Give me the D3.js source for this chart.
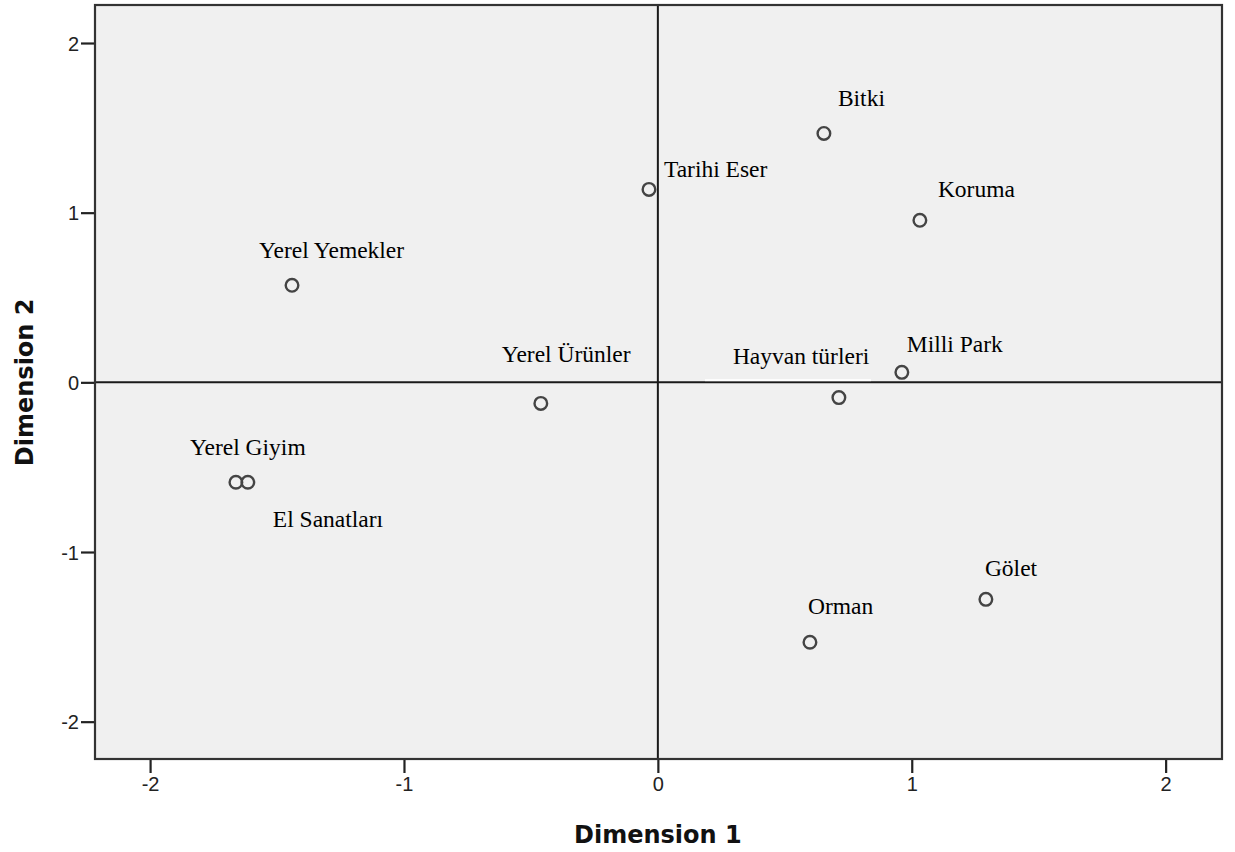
<!DOCTYPE html>
<html>
<head>
<meta charset="utf-8">
<script src="https://cdn.jsdelivr.net/npm/d3@7/dist/d3.min.js"></script>
<style>
  html, body { margin: 0; padding: 0; background: #ffffff; }
  svg { display: block; }
</style>
</head>
<body>
<svg id="chart" width="1235" height="852"></svg>
<script>
// ---- data ----
const labels = ["Bitki", "Tarihi Eser", "Koruma", "Yerel Yemekler", "Milli Park", "Hayvan türleri",
                "Yerel Ürünler", "Yerel Giyim", "El Sanatları", "Gölet", "Orman"];
const dim1 = [0.654, -0.035, 1.032, -1.441, 0.961, 0.713, -0.461, -1.662, -1.615, 1.292, 0.599];
const dim2 = [1.467, 1.137, 0.955, 0.572, 0.059, -0.090, -0.124, -0.589, -0.589, -1.279, -1.532];
const xTicks = [-2, -1, 0, 1, 2];
const yTicks = [-2, -1, 0, 1, 2];
const xTitle = "Dimension 1";
const yTitle = "Dimension 2";

// ---- layout (label offsets in px from point to text start/baseline) ----
const labelDx = [14, 15, 18, -33, 5, -106, -39, -46, 25, -1, -2];
const labelDy = [-27, -12, -23, -27, -20, -34, -41, -27, 45, -23, -28];

const svg = d3.select("#chart");
const L = 95, R = 1222, T = 5, B = 759;

const x = d3.scaleLinear().domain([-2.217, 2.222]).range([L, R]);
const y = d3.scaleLinear().domain([-2.22, 2.224]).range([B, T]);

// plot background
svg.append("rect").attr("x", L).attr("y", T).attr("width", R - L).attr("height", B - T)
  .attr("fill", "#f0f0f0");

// zero reference lines
svg.append("line").attr("x1", L).attr("x2", R).attr("y1", y(0)).attr("y2", y(0))
  .attr("stroke", "#1a1a1a").attr("stroke-width", 2);
svg.append("line").attr("x1", x(0)).attr("x2", x(0)).attr("y1", T).attr("y2", B)
  .attr("stroke", "#1a1a1a").attr("stroke-width", 2);

// white strip under "Hayvan türleri" label
svg.append("rect").attr("x", 705).attr("y", y(0) - 3.2).attr("width", 166).attr("height", 2)
  .attr("fill", "#ffffff");

// axes
const xAxis = d3.axisBottom(x).tickValues(xTicks).tickFormat(d3.format("d")).tickSize(14).tickSizeOuter(0);
const yAxis = d3.axisLeft(y).tickValues(yTicks).tickFormat(d3.format("d")).tickSize(14).tickSizeOuter(0);

const gx = svg.append("g").attr("transform", `translate(0,${B})`).call(xAxis);
const gy = svg.append("g").attr("transform", `translate(${L},0)`).call(yAxis);
[gx, gy].forEach(g => {
  g.select(".domain").remove();
  g.selectAll(".tick line").attr("stroke", "#222").attr("stroke-width", 2.2);
  g.selectAll(".tick text").attr("fill", "#222")
    .style("font-family", "'Liberation Sans', Arial, sans-serif").style("font-size", "20px");
});
gx.selectAll(".tick text").attr("dy", "0.71em").attr("y", 18);
gy.selectAll(".tick text").attr("x", -16).attr("dy", "0.35em");
gx.selectAll(".tick text").text(d => d < 0 ? "-" + Math.abs(d) : d);
gy.selectAll(".tick text").text(d => d < 0 ? "-" + Math.abs(d) : d);

// frame
svg.append("rect").attr("x", L).attr("y", T).attr("width", R - L).attr("height", B - T)
  .attr("fill", "none").attr("stroke", "#333").attr("stroke-width", 2.2);

// points
const pts = labels.map((l, i) => ({ label: l, x: dim1[i], y: dim2[i], dx: labelDx[i], dy: labelDy[i] }));
svg.append("g").selectAll("circle").data(pts).join("circle")
  .attr("cx", d => x(d.x)).attr("cy", d => y(d.y)).attr("r", 6.3)
  .attr("fill", "none").attr("stroke", "#444").attr("stroke-width", 2.4);

// labels
svg.append("g").selectAll("text").data(pts).join("text")
  .attr("x", d => x(d.x) + d.dx).attr("y", d => y(d.y) + d.dy)
  .text(d => d.label)
  .attr("fill", "#000")
  .style("font-family", "'Liberation Serif', 'Times New Roman', serif")
  .style("font-size", "23.5px");

// axis titles
svg.append("text").attr("x", x(0)).attr("y", 843).attr("text-anchor", "middle")
  .text(xTitle).attr("fill", "#111")
  .style("font-family", "'DejaVu Sans', Verdana, sans-serif").style("font-weight", "bold").style("font-size", "24px");
svg.append("text").attr("transform", `translate(33,${y(0)}) rotate(-90)`).attr("text-anchor", "middle")
  .text(yTitle).attr("fill", "#111")
  .style("font-family", "'DejaVu Sans', Verdana, sans-serif").style("font-weight", "bold").style("font-size", "24px");
</script>
</body>
</html>
